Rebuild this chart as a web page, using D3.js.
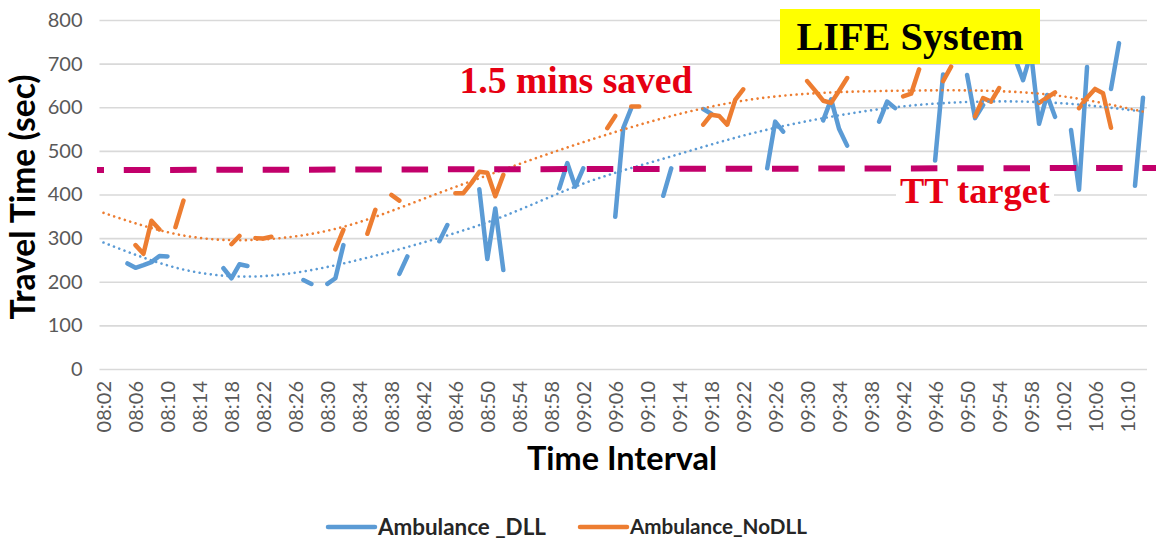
<!DOCTYPE html>
<html><head><meta charset="utf-8">
<script src="https://cdn.jsdelivr.net/npm/d3@7"></script>
<style>html,body{margin:0;padding:0;background:#fff;} svg{display:block;}</style>
</head><body>
<svg id="chart" width="1156" height="545"></svg>
<script>
const categories = [
"08:02","08:03","08:04","08:05","08:06","08:07","08:08","08:09","08:10","08:11",
"08:12","08:13","08:14","08:15","08:16","08:17","08:18","08:19","08:20","08:21",
"08:22","08:23","08:24","08:25","08:26","08:27","08:28","08:29","08:30","08:31",
"08:32","08:33","08:34","08:35","08:36","08:37","08:38","08:39","08:40","08:41",
"08:42","08:43","08:44","08:45","08:46","08:47","08:48","08:49","08:50","08:51",
"08:52","08:53","08:54","08:55","08:56","08:57","08:58","08:59","09:00","09:01",
"09:02","09:03","09:04","09:05","09:06","09:07","09:08","09:09","09:10","09:11",
"09:12","09:13","09:14","09:15","09:16","09:17","09:18","09:19","09:20","09:21",
"09:22","09:23","09:24","09:25","09:26","09:27","09:28","09:29","09:30","09:31",
"09:32","09:33","09:34","09:35","09:36","09:37","09:38","09:39","09:40","09:41",
"09:42","09:43","09:44","09:45","09:46","09:47","09:48","09:49","09:50","09:51",
"09:52","09:53","09:54","09:55","09:56","09:57","09:58","09:59","10:00","10:01",
"10:02","10:03","10:04","10:05","10:06","10:07","10:08","10:09","10:10","10:11",
"10:12"];

const tickLabels = ["08:02","08:06","08:10","08:14","08:18","08:22","08:26","08:30","08:34","08:38",
"08:42","08:46","08:50","08:54","08:58","09:02","09:06","09:10","09:14","09:18","09:22","09:26",
"09:30","09:34","09:38","09:42","09:46","09:50","09:54","09:58","10:02","10:06","10:10"];

const yTicks = [0,100,200,300,400,500,600,700,800];

const seriesNames = ["Ambulance _DLL","Ambulance_NoDLL"];

// Ambulance _DLL travel time (sec), one value per minute, null = no data
const dll = [
null,null,null,242,232,238,245,259,258,null,
null,null,null,null,null,231,208,240,236,null,
null,null,null,null,null,204,195,null,195,208,
284,null,null,null,null,null,null,218,258,null,
null,null,293,330,null,null,null,412,252,368,
227,null,null,null,null,null,null,414,472,418,
460,null,null,null,349,552,598,null,null,null,
397,460,null,null,null,596,585,null,null,null,
null,null,null,460,567,544,null,null,null,null,
570,618,550,512,null,null,null,567,613,598,
null,null,null,null,478,675,null,null,674,575,
605,null,null,null,712,662,725,562,628,578,
null,548,411,692,null,null,642,747,null,420,
622];

// Ambulance_NoDLL travel time (sec)
const nodll = [
null,null,null,null,284,264,340,320,null,325,
386,null,null,null,null,null,286,305,null,300,
299,303,null,null,null,null,null,null,null,274,
319,null,null,310,365,null,399,386,null,null,
null,null,null,null,403,403,426,452,450,396,
445,null,null,null,null,null,null,null,null,null,
null,null,null,552,580,null,602,602,null,null,
null,null,null,null,null,560,583,580,560,617,
641,null,null,null,null,null,null,null,660,638,
615,610,638,667,null,null,null,null,null,null,
625,631,687,null,null,660,693,null,null,579,
621,613,644,null,null,null,null,610,622,634,
null,null,598,622,642,632,553,null,null,null,
null];

// dotted trend lines, every 10 minutes
const trendCats = ["08:02","08:12","08:22","08:32","08:42","08:52","09:02","09:12","09:22","09:32","09:42","09:52","10:02","10:12"];
const trendDLL   = [290,228,213,242,290,350,425,482,535,575,602,613,609,590];
const trendNoDLL = [358,306,297,326,390,457,520,575,615,633,638,638,625,590];

const ttTarget = [456,461];   // start, end of the target line
const annotations = ["LIFE System","1.5 mins saved","TT target"];
const axisTitles = ["Time Interval","Travel Time (sec)"];

const colors = ["#5B9BD5","#ED7D31"];

const svg = d3.select("#chart");
const x = d3.scalePoint().domain(categories).range([99.5,1147]).padding(0.5);
const y = d3.scaleLinear().domain([0,800]).range([369,20]);

function fit(sel, target){
  const w = sel.node().getComputedTextLength();
  const fs = parseFloat(sel.attr("font-size"));
  sel.attr("font-size", fs*target/w);
  return sel;
}

// gridlines
const grid = svg.append("g").attr("transform","translate(99.5,0)")
  .call(d3.axisLeft(y).tickValues(yTicks).tickSize(-(1147-99.5)).tickFormat(""));
grid.select(".domain").remove();
grid.selectAll("line").attr("stroke","#d9d9d9").attr("stroke-width",1.6);

// y labels
const ya = svg.append("g").attr("transform","translate(99.5,0)")
  .call(d3.axisLeft(y).tickValues(yTicks).tickSize(0).tickPadding(17));
ya.select(".domain").remove();
ya.selectAll("text").attr("font-family","Lato, 'Open Sans', sans-serif").attr("font-size",20).attr("fill","#595959");

// x labels
const xa = svg.append("g").attr("transform","translate(0,369)")
  .call(d3.axisBottom(x).tickValues(tickLabels).tickSize(0));
xa.select(".domain").remove();
xa.selectAll("text")
  .attr("font-family","Lato, 'Open Sans', sans-serif").attr("font-size",20).attr("fill","#595959")
  .attr("transform","rotate(-90)").attr("x",-12).attr("y",0).attr("dy","0.35em").attr("text-anchor","end");

// series
const line = d3.line().defined(d=>d!=null).x((d,i)=>x(categories[i])).y(d=>y(d));
[dll,nodll].forEach((s,k)=>{
  svg.append("path").datum(s).attr("d",line).attr("fill","none")
    .attr("stroke",colors[k]).attr("stroke-width",4.5)
    .attr("stroke-linejoin","round").attr("stroke-linecap","round");
});

// trend lines
const tline = d3.line().x((d,i)=>x(trendCats[i])).y(d=>y(d)).curve(d3.curveNatural);
[trendDLL,trendNoDLL].forEach((s,k)=>{
  svg.append("path").datum(s).attr("d",tline).attr("fill","none")
    .attr("stroke",colors[k]).attr("stroke-width",2.6)
    .attr("stroke-dasharray","0.01 5.6").attr("stroke-linecap","round");
});

// TT target dashed line
svg.append("line").attr("x1",97).attr("x2",1156)
  .attr("y1",y(ttTarget[0])).attr("y2",y(ttTarget[1]))
  .attr("stroke","#c2006b").attr("stroke-width",6)
  .attr("stroke-dasharray","26.5 19.8").attr("stroke-dashoffset",19.5);

// annotations
svg.append("rect").attr("x",780).attr("y",9).attr("width",260).attr("height",55).attr("fill","#ffff00");
fit(svg.append("text").attr("x",910).attr("y",50).attr("text-anchor","middle")
  .attr("font-family","'Liberation Serif', serif").attr("font-weight","bold").attr("font-size",32)
  .attr("fill","#000").text(annotations[0]), 227);
fit(svg.append("text").attr("x",576).attr("y",93).attr("text-anchor","middle")
  .attr("font-family","'Liberation Serif', serif").attr("font-weight","bold").attr("font-size",32)
  .attr("fill","#e60012").text(annotations[1]), 233);
svg.append("rect").attr("x",896).attr("y",178).attr("width",158).attr("height",32).attr("fill","#fff");
fit(svg.append("text").attr("x",975).attr("y",203).attr("text-anchor","middle")
  .attr("font-family","'Liberation Serif', serif").attr("font-weight","bold").attr("font-size",32)
  .attr("fill","#e60012").text(annotations[2]), 150);

// axis titles
fit(svg.append("text").attr("x",622).attr("y",470).attr("text-anchor","middle")
  .attr("font-family","Lato, sans-serif").attr("font-weight","bold").attr("font-size",29)
  .attr("fill","#000").text(axisTitles[0]), 190);
fit(svg.append("text").attr("transform","translate(35,197) rotate(-90)").attr("text-anchor","middle")
  .attr("font-family","Lato, sans-serif").attr("font-weight","bold").attr("font-size",27)
  .attr("fill","#000").text(axisTitles[1]), 245);

// legend
const legX = [328,580], legW=[168,177];
seriesNames.forEach((n,k)=>{
  svg.append("line").attr("x1",legX[k]).attr("x2",legX[k]+47).attr("y1",527).attr("y2",527)
    .attr("stroke",colors[k]).attr("stroke-width",4.5).attr("stroke-linecap","round");
  fit(svg.append("text").attr("x",legX[k]+50).attr("y",527).attr("dy","0.35em")
    .attr("font-family","Lato, sans-serif").attr("font-weight","bold").attr("font-size",19)
    .attr("fill","#262626").text(n), legW[k]);
});
</script>
</body></html>
